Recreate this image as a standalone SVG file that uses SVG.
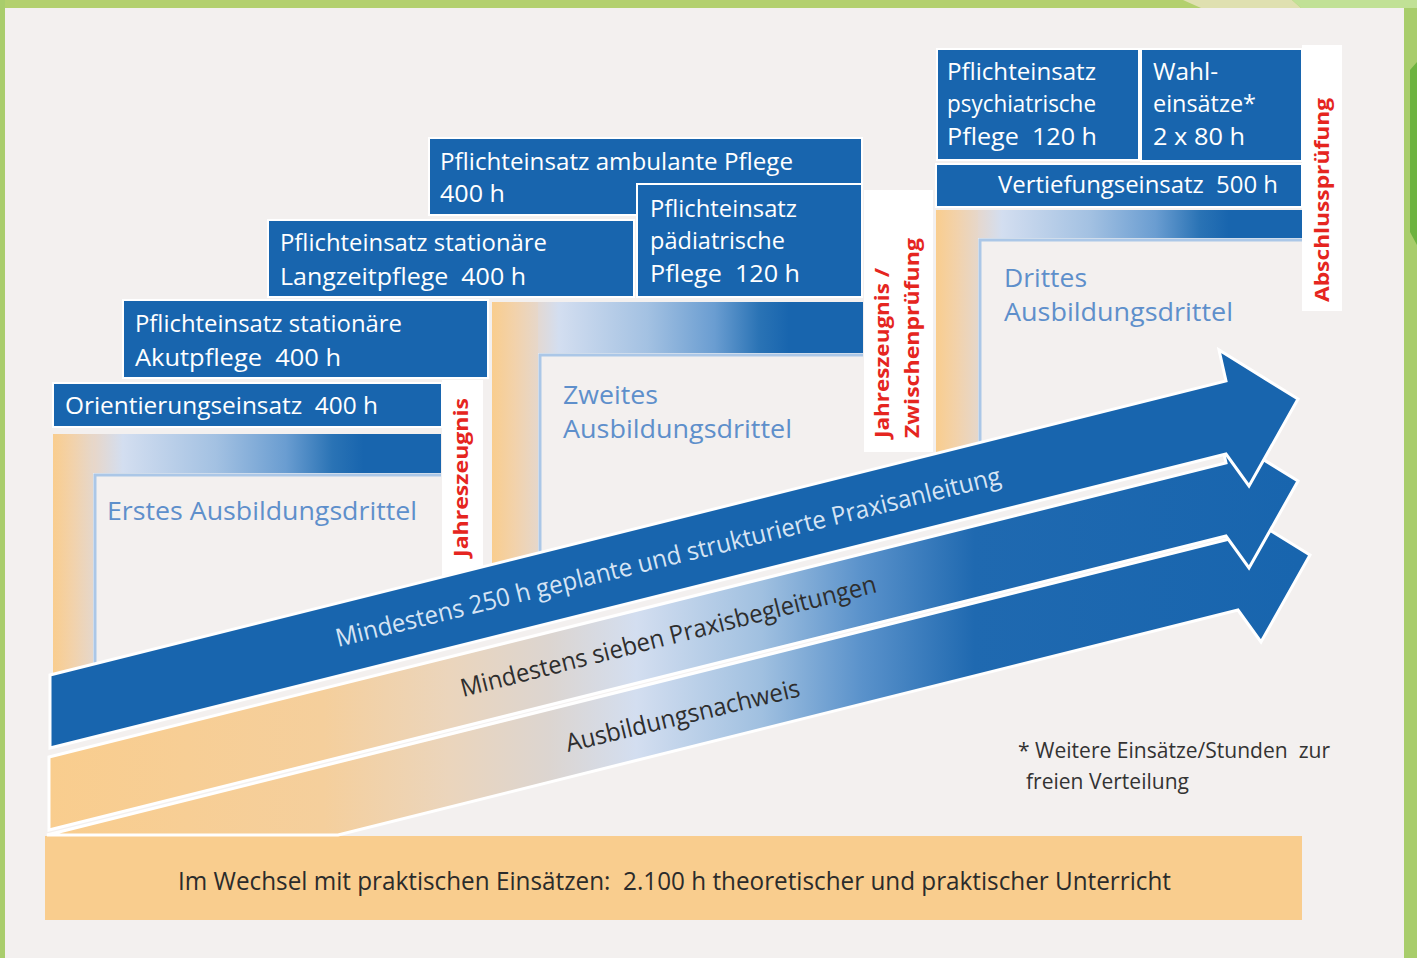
<svg xmlns="http://www.w3.org/2000/svg" width="1417" height="958" viewBox="0 0 1417 958">
<defs>
<style>
.box{fill:#1865ae;stroke:#ffffff;stroke-width:2}
.wb{fill:#ffffff}
.bt{font-family:"Open Sans","Noto Sans","DejaVu Sans",sans-serif;font-size:24px;fill:#ffffff;white-space:pre}
.dt{font-family:"Open Sans","Noto Sans","DejaVu Sans",sans-serif;font-size:25px;fill:#5e8fcb;white-space:pre}
.rt{font-family:"Open Sans","Noto Sans","DejaVu Sans",sans-serif;font-weight:bold;font-size:20px;fill:#e52520;white-space:pre}
.at{font-family:"Open Sans","Noto Sans","DejaVu Sans",sans-serif;font-size:25px;white-space:pre}
.ft{font-family:"Open Sans","Noto Sans","DejaVu Sans",sans-serif;font-size:21px;fill:#333333;white-space:pre}
.inl{fill:none;stroke:#abc7e7;stroke-width:3}
.arrow{stroke:#ffffff;stroke-width:3;stroke-linejoin:miter}
</style>
<linearGradient id="bar" x1="0" y1="0" x2="1" y2="0">
<stop offset="0" stop-color="#f9cd8e"/>
<stop offset="0.1" stop-color="#e9d6c6"/>
<stop offset="0.18" stop-color="#d3def0"/>
<stop offset="0.42" stop-color="#a3c1e2"/>
<stop offset="0.6" stop-color="#6a9dd1"/>
<stop offset="0.72" stop-color="#2a73b5"/>
<stop offset="0.8" stop-color="#1865ae"/>
<stop offset="1" stop-color="#1865ae"/>
</linearGradient>
<linearGradient id="strip" x1="0" y1="0" x2="1" y2="0">
<stop offset="0" stop-color="#f9cd8e"/>
<stop offset="0.5" stop-color="#f2d2ab"/>
<stop offset="1" stop-color="#e6d7ca"/>
</linearGradient>
<linearGradient id="arr" gradientUnits="userSpaceOnUse" x1="48" y1="0" x2="1300" y2="0">
<stop offset="0" stop-color="#f9cd8e"/>
<stop offset="0.22" stop-color="#f5cf9c"/>
<stop offset="0.32" stop-color="#ebd5bc"/>
<stop offset="0.4" stop-color="#dcd5d0"/>
<stop offset="0.47" stop-color="#d3def0"/>
<stop offset="0.57" stop-color="#a0c0e0"/>
<stop offset="0.65" stop-color="#5a92cb"/>
<stop offset="0.74" stop-color="#1f69b0"/>
<stop offset="1" stop-color="#1865ae"/>
</linearGradient>
</defs>

<g id="frame">
<rect x="0" y="0" width="1417" height="958" fill="#f3f0ef"/>
<rect x="0" y="0" width="1417" height="8" fill="#b3d06e"/>
<polygon points="1183,0 1292,0 1301,8 1201,8" fill="#dfe0b0"/>
<polygon points="1292,0 1417,0 1417,8 1301,8" fill="#c1e196"/>
<rect x="0" y="0" width="5" height="958" fill="#a9cd6c"/>
<rect x="1404" y="8" width="13" height="950" fill="#a8cd6b"/>
<polygon points="1410,70 1417,62 1417,245 1410,232" fill="#6db33f"/>
</g>

<g id="step1">
<rect x="53" y="434" width="388" height="39" fill="url(#bar)"/>
<rect x="53" y="434" width="40" height="250" fill="url(#strip)"/>
<path class="inl" d="M95,684 V475 H441"/>
<rect class="box" x="53" y="383" width="389" height="44"/>
<text class="bt" x="65" y="414" textLength="313" lengthAdjust="spacingAndGlyphs">Orientierungseinsatz  400 h</text>
<text class="dt" x="107" y="520" textLength="310" lengthAdjust="spacingAndGlyphs">Erstes Ausbildungsdrittel</text>
<rect class="wb" x="442" y="380" width="41" height="200"/>
<text class="rt" transform="translate(468,557) rotate(-90)" textLength="159" lengthAdjust="spacingAndGlyphs">Jahreszeugnis</text>
</g>

<g id="step2">
<rect x="492" y="302" width="371" height="51" fill="url(#bar)"/>
<rect x="492" y="302" width="46" height="280" fill="url(#strip)"/>
<path class="inl" d="M540,582 V355 H863"/>
<rect class="box" x="429" y="138" width="433" height="77"/>
<text class="bt" x="440" y="170" textLength="353" lengthAdjust="spacingAndGlyphs">Pflichteinsatz ambulante Pflege</text>
<text class="bt" x="440" y="202" textLength="65" lengthAdjust="spacingAndGlyphs">400 h</text>
<rect class="box" x="637" y="184" width="225" height="113"/>
<text class="bt" x="650" y="217" textLength="147" lengthAdjust="spacingAndGlyphs">Pflichteinsatz</text>
<text class="bt" x="650" y="249" textLength="135" lengthAdjust="spacingAndGlyphs">pädiatrische</text>
<text class="bt" x="650" y="282" textLength="150" lengthAdjust="spacingAndGlyphs">Pflege  120 h</text>
<rect class="box" x="268" y="220" width="366" height="77"/>
<text class="bt" x="280" y="251" textLength="267" lengthAdjust="spacingAndGlyphs">Pflichteinsatz stationäre</text>
<text class="bt" x="280" y="285" textLength="246" lengthAdjust="spacingAndGlyphs">Langzeitpflege  400 h</text>
<rect class="box" x="123" y="300" width="365" height="78"/>
<text class="bt" x="135" y="332" textLength="267" lengthAdjust="spacingAndGlyphs">Pflichteinsatz stationäre</text>
<text class="bt" x="135" y="366" textLength="206" lengthAdjust="spacingAndGlyphs">Akutpflege  400 h</text>
<text class="dt" x="563" y="404" textLength="95" lengthAdjust="spacingAndGlyphs">Zweites</text>
<text class="dt" x="563" y="438" textLength="229" lengthAdjust="spacingAndGlyphs">Ausbildungsdrittel</text>
<rect class="wb" x="864" y="190" width="69" height="262"/>
<text class="rt" transform="translate(889,438) rotate(-90)" textLength="170" lengthAdjust="spacingAndGlyphs">Jahreszeugnis /</text>
<text class="rt" transform="translate(919,438) rotate(-90)" textLength="200" lengthAdjust="spacingAndGlyphs">Zwischenprüfung</text>
</g>

<g id="step3">
<rect x="936" y="210" width="366" height="28" fill="url(#bar)"/>
<rect x="936" y="210" width="42" height="260" fill="url(#strip)"/>
<path class="inl" d="M980,470 V240 H1302"/>
<rect class="wb" x="1302" y="45" width="40" height="266"/>
<rect class="box" x="937" y="49" width="202" height="111"/>
<text class="bt" x="947" y="80" textLength="149" lengthAdjust="spacingAndGlyphs">Pflichteinsatz</text>
<text class="bt" x="947" y="112" textLength="149" lengthAdjust="spacingAndGlyphs">psychiatrische</text>
<text class="bt" x="947" y="145" textLength="150" lengthAdjust="spacingAndGlyphs">Pflege  120 h</text>
<rect class="box" x="1141" y="49" width="161" height="112"/>
<text class="bt" x="1153" y="80" textLength="65" lengthAdjust="spacingAndGlyphs">Wahl-</text>
<text class="bt" x="1153" y="112" textLength="103" lengthAdjust="spacingAndGlyphs">einsätze*</text>
<text class="bt" x="1153" y="145" textLength="92" lengthAdjust="spacingAndGlyphs">2 x 80 h</text>
<rect class="box" x="936" y="164" width="366" height="43"/>
<text class="bt" x="998" y="193" textLength="280" lengthAdjust="spacingAndGlyphs">Vertiefungseinsatz  500 h</text>
<text class="dt" x="1004" y="287" textLength="83" lengthAdjust="spacingAndGlyphs">Drittes</text>
<text class="dt" x="1004" y="321" textLength="229" lengthAdjust="spacingAndGlyphs">Ausbildungsdrittel</text>
<text class="rt" transform="translate(1329,302) rotate(-90)" textLength="204" lengthAdjust="spacingAndGlyphs">Abschlussprüfung</text>
</g>

<g id="unterricht">
<rect x="45" y="836" width="1257" height="84" fill="#f9cd8e"/>
<text class="at" x="178" y="890" fill="#2b2b2b" font-size="26" textLength="993" lengthAdjust="spacingAndGlyphs">Im Wechsel mit praktischen Einsätzen:  2.100 h theoretischer und praktischer Unterricht</text>
</g>

<g id="connectors">
<polygon id="arrow3" class="arrow" fill="url(#arr)" points="47,835 1238,537 1231,506 1310,555 1261,642 1238,610 338,835"/>
<polygon id="arrow2" class="arrow" fill="url(#arr)" points="49,757 1226,463 1219,432 1298,481 1249,568 1226,536 49,830"/>
<polygon id="arrow1" class="arrow" fill="#1865ae" points="50,675 1226,381 1219,350 1298,399 1249,486 1226,454 50,748"/>
<text class="at" fill="#d6e4f4" transform="translate(338,647) rotate(-13.8)" textLength="684" lengthAdjust="spacingAndGlyphs">Mindestens 250 h geplante und strukturierte Praxisanleitung</text>
<text class="at" fill="#2e2e2e" transform="translate(463,697) rotate(-14.2)" textLength="428" lengthAdjust="spacingAndGlyphs">Mindestens sieben Praxisbegleitungen</text>
<text class="at" fill="#2e2e2e" transform="translate(568,752) rotate(-13.5)" textLength="240" lengthAdjust="spacingAndGlyphs">Ausbildungsnachweis</text>
</g>

<g id="footnote">
<text class="ft" x="1018" y="758" textLength="312" lengthAdjust="spacingAndGlyphs">* Weitere Einsätze/Stunden  zur</text>
<text class="ft" x="1026" y="789" textLength="163" lengthAdjust="spacingAndGlyphs">freien Verteilung</text>
</g>
</svg>
